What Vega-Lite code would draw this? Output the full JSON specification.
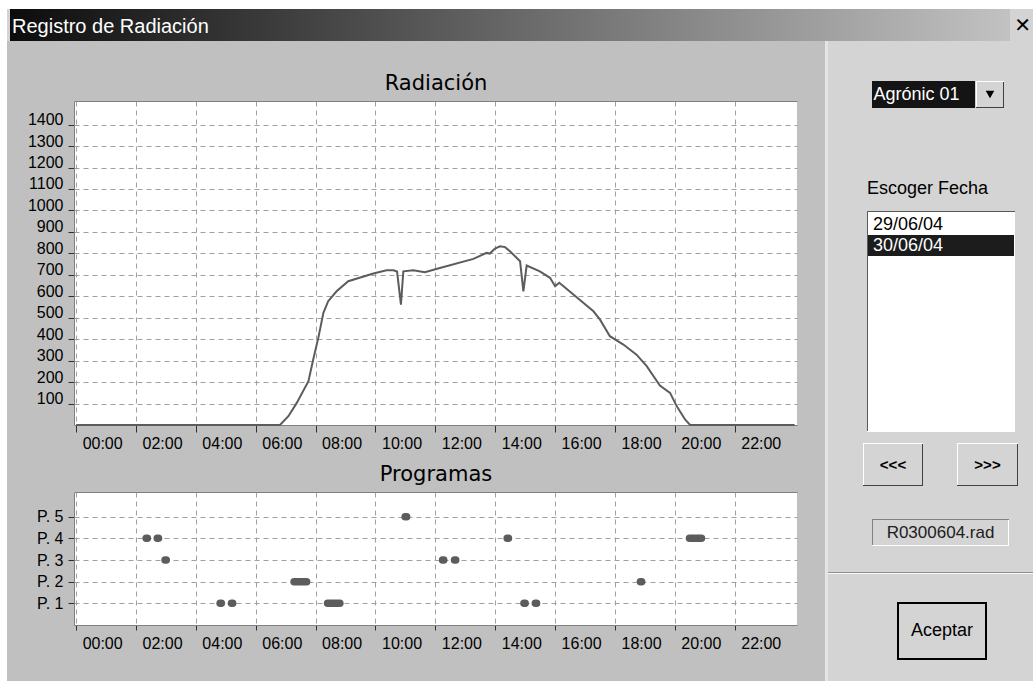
{
  "$schema": "https://vega.github.io/schema/vega-lite/v6.json",
  "background": "#c0c0c0",
  "padding": 0,
  "autosize": {"type": "pad"},
  "spacing": 0,
  "bounds": "full",
  "config": {
    "view": {"stroke": null},
    "font": "Liberation Sans",
    "concat": {"spacing": 0},
    "text": {"font": "Liberation Sans", "fontSize": 18, "color": "#000000"},
    "axis": {"labelFont": "Liberation Sans", "titleFont": "DejaVu Sans"}
  },
  "datasets": {
    "radiacion": [
      {"hora": 0, "valor": 0}, {"hora": 6.81, "valor": 0}, {"hora": 7.09, "valor": 41}, {"hora": 7.37, "valor": 103},
      {"hora": 7.76, "valor": 204}, {"hora": 7.92, "valor": 305}, {"hora": 8.09, "valor": 406}, {"hora": 8.26, "valor": 523},
      {"hora": 8.42, "valor": 577}, {"hora": 8.7, "valor": 623}, {"hora": 9.09, "valor": 670}, {"hora": 9.93, "valor": 706},
      {"hora": 10.37, "valor": 721}, {"hora": 10.6, "valor": 721}, {"hora": 10.72, "valor": 715}, {"hora": 10.85, "valor": 561},
      {"hora": 10.93, "valor": 716}, {"hora": 11.26, "valor": 721}, {"hora": 11.65, "valor": 712}, {"hora": 12.15, "valor": 732},
      {"hora": 13.27, "valor": 774}, {"hora": 13.71, "valor": 802}, {"hora": 13.82, "valor": 799}, {"hora": 13.99, "valor": 822},
      {"hora": 14.16, "valor": 833}, {"hora": 14.33, "valor": 829}, {"hora": 14.49, "valor": 810}, {"hora": 14.83, "valor": 763},
      {"hora": 14.94, "valor": 623}, {"hora": 15.05, "valor": 743}, {"hora": 15.49, "valor": 716}, {"hora": 15.83, "valor": 686},
      {"hora": 16.0, "valor": 647}, {"hora": 16.14, "valor": 663}, {"hora": 16.61, "valor": 608}, {"hora": 17.28, "valor": 530},
      {"hora": 17.5, "valor": 491}, {"hora": 17.83, "valor": 414}, {"hora": 18.28, "valor": 375}, {"hora": 18.72, "valor": 328},
      {"hora": 19.06, "valor": 274}, {"hora": 19.5, "valor": 184}, {"hora": 19.84, "valor": 150}, {"hora": 20.06, "valor": 88},
      {"hora": 20.34, "valor": 26}, {"hora": 20.51, "valor": 0}, {"hora": 24, "valor": 0}
    ],
    "programas": [
      {"programa": 5, "inicio": 10.99, "fin": 11.04},
      {"programa": 4, "inicio": 2.34, "fin": 2.38},
      {"programa": 4, "inicio": 2.71, "fin": 2.75},
      {"programa": 4, "inicio": 14.4, "fin": 14.44},
      {"programa": 4, "inicio": 20.49, "fin": 20.89},
      {"programa": 3, "inicio": 2.97, "fin": 3.01},
      {"programa": 3, "inicio": 12.24, "fin": 12.28},
      {"programa": 3, "inicio": 12.64, "fin": 12.68},
      {"programa": 2, "inicio": 7.28, "fin": 7.7},
      {"programa": 2, "inicio": 18.85, "fin": 18.89},
      {"programa": 1, "inicio": 4.81, "fin": 4.85},
      {"programa": 1, "inicio": 5.19, "fin": 5.23},
      {"programa": 1, "inicio": 8.4, "fin": 8.81},
      {"programa": 1, "inicio": 14.96, "fin": 15.0},
      {"programa": 1, "inicio": 15.34, "fin": 15.38}
    ]
  },
  "vconcat": [
    {"width": 1033, "height": 9, "view": {"fill": "#ffffff"}, "data": {"values": []}, "mark": "point", "encoding": {}},
    {
      "hconcat": [
        {"width": 7, "height": 672, "view": {"fill": "#ffffff"}, "data": {"values": []}, "mark": "point", "encoding": {}},
        {
          "vconcat": [
            {
              "hconcat": [
                {"width": 3, "height": 32, "view": {"fill": "#d4d4d4"}, "data": {"values": []}, "mark": "point", "encoding": {}},
                {
                  "width": 1000, "height": 32,
                  "data": {"values": [{"texto": "Registro de Radiación"}]},
                  "layer": [
                    {
                      "mark": {"type": "rect", "color": {"gradient": "linear", "x1": 0, "x2": 1, "y1": 0, "y2": 0, "stops": [{"offset": 0, "color": "#0c0c0c"}, {"offset": 1, "color": "#c2c2c2"}]}},
                      "encoding": {
                        "x": {"datum": 0, "type": "quantitative", "scale": {"domain": [0, 1], "nice": false}, "axis": null},
                        "x2": {"datum": 1},
                        "y": {"datum": 0, "type": "quantitative", "scale": {"domain": [0, 1], "nice": false}, "axis": null},
                        "y2": {"datum": 1}
                      }
                    },
                    {
                      "mark": {"type": "text", "align": "left", "baseline": "alphabetic", "dx": 2, "dy": 8, "fontSize": 20, "color": "#ffffff", "font": "Liberation Sans"},
                      "encoding": {"x": {"datum": 0, "type": "quantitative"}, "text": {"field": "texto"}}
                    }
                  ]
                },
                {"width": 23, "height": 32, "view": {"fill": "#d4d4d4"}, "data": {"values": [{"texto": "✕"}]}, "mark": {"type": "text", "font": "DejaVu Sans", "fontWeight": "bold", "fontSize": 20, "baseline": "middle", "dx": 1, "dy": 1, "color": "#000000"}, "encoding": {"text": {"field": "texto"}}}
              ],
              "spacing": 0, "bounds": "flush"
            },
            {
              "hconcat": [
                {"width": 1, "height": 1, "data": {"values": []}, "mark": "point", "encoding": {}},
                {
                  "vconcat": [
                    {"width": 1, "height": 31, "data": {"values": []}, "mark": "point", "encoding": {}},
                    {
                      "width": 723, "height": 324,
                      "view": {"fill": "#ffffff"},
                      "data": {"name": "radiacion"},
                      "resolve": {"axis": {"x": "independent"}},
                      "layer": [
                        {
                          "mark": {"type": "line", "color": "#5c5c5c", "strokeWidth": 2},
                          "encoding": {
                            "x": {"field": "hora", "type": "quantitative", "scale": {"domain": [-0.071, 24.08], "nice": false, "zero": false},
                              "axis": {"orient": "bottom", "values": [0, 2, 4, 6, 8, 10, 12, 14, 16, 18, 20, 22],
                                "labelExpr": "(datum.value < 10 ? '0' : '') + datum.value + ':00'",
                                "labelAlign": "left", "labelOffset": 6, "labelBaseline": "top", "labelFontSize": 16, "labelColor": "#000000", "labelPadding": 3,
                                "labelFlush": false, "labelBound": false, "labelOverlap": false,
                                "tickSize": 7, "tickColor": "#303030", "tickWidth": 1, "domain": true, "domainColor": "#808080",
                                "grid": true, "gridColor": "#a0a0a0", "gridDash": [5, 4], "gridWidth": 1,
                                "minExtent": 38, "maxExtent": 38, "title": null}},
                            "y": {"field": "valor", "type": "quantitative", "scale": {"domain": [0, 1510], "nice": false},
                              "axis": {"values": [100, 200, 300, 400, 500, 600, 700, 800, 900, 1000, 1100, 1200, 1300, 1400], "format": "d",
                                "labelFontSize": 16, "labelColor": "#000000", "labelBaseline": "alphabetic", "labelPadding": 5,
                                "labelFlush": false, "labelBound": false, "labelOverlap": false,
                                "tickSize": 6, "tickColor": "#303030", "domain": true, "domainColor": "#808080",
                                "grid": true, "gridColor": "#a0a0a0", "gridDash": [5, 4], "gridWidth": 1,
                                "minExtent": 66, "maxExtent": 66,
                                "title": "Radiación", "titleX": 361.5, "titleY": -12, "titleAlign": "center", "titleBaseline": "alphabetic", "titleAngle": 0,
                                "titleFont": "DejaVu Sans", "titleFontSize": 21, "titleFontWeight": "normal", "titleColor": "#000000"}}
                          }
                        },
                        {
                          "mark": {"type": "rule", "opacity": 0},
                          "encoding": {
                            "x": {"field": "hora", "type": "quantitative",
                              "axis": {"orient": "top", "labels": false, "ticks": false, "grid": false, "domain": true, "domainColor": "#808080", "title": null}}
                          }
                        }
                      ]
                    },
                    {
                      "width": 723, "height": 133,
                      "view": {"fill": "#ffffff"},
                      "data": {"name": "programas"},
                      "resolve": {"axis": {"x": "independent"}},
                      "layer": [
                        {
                          "mark": {"type": "rule", "color": "#5c5c5c", "strokeWidth": 7.5, "strokeCap": "round"},
                          "encoding": {
                            "x": {"field": "inicio", "type": "quantitative", "scale": {"domain": [-0.071, 24.08], "nice": false, "zero": false},
                              "axis": {"orient": "bottom", "values": [0, 2, 4, 6, 8, 10, 12, 14, 16, 18, 20, 22],
                                "labelExpr": "(datum.value < 10 ? '0' : '') + datum.value + ':00'",
                                "labelAlign": "left", "labelOffset": 6, "labelBaseline": "top", "labelFontSize": 16, "labelColor": "#000000", "labelPadding": 5,
                                "labelFlush": false, "labelBound": false, "labelOverlap": false,
                                "tickSize": 5, "tickColor": "#303030", "tickWidth": 1, "domain": true, "domainColor": "#808080",
                                "grid": true, "gridColor": "#a0a0a0", "gridDash": [5, 4], "gridWidth": 1, "title": null}},
                            "x2": {"field": "fin"},
                            "y": {"field": "programa", "type": "quantitative", "scale": {"domain": [0, 6.14], "nice": false},
                              "axis": {"values": [1, 2, 3, 4, 5], "labelExpr": "'P. ' + datum.value",
                                "labelFontSize": 16, "labelColor": "#000000", "labelBaseline": "middle", "labelPadding": 5,
                                "labelFlush": false, "labelBound": false, "labelOverlap": false,
                                "tickSize": 6, "tickColor": "#303030", "domain": true, "domainColor": "#808080",
                                "grid": true, "gridColor": "#a0a0a0", "gridDash": [5, 4], "gridWidth": 1,
                                "minExtent": 66, "maxExtent": 66,
                                "title": "Programas", "titleX": 361.5, "titleY": -12, "titleAlign": "center", "titleBaseline": "alphabetic", "titleAngle": 0,
                                "titleFont": "DejaVu Sans", "titleFontSize": 21, "titleFontWeight": "normal", "titleColor": "#000000"}}
                          }
                        },
                        {
                          "mark": {"type": "rule", "opacity": 0},
                          "encoding": {
                            "x": {"field": "inicio", "type": "quantitative",
                              "axis": {"orient": "top", "labels": false, "ticks": false, "grid": false, "domain": true, "domainColor": "#808080", "title": null}}
                          }
                        }
                      ]
                    }
                  ],
                  "spacing": 0, "bounds": "full"
                },
                {"width": 25.5, "height": 1, "data": {"values": []}, "mark": "point", "encoding": {}},
                {"width": 3, "height": 640, "view": {"fill": "#e4e4e4"}, "data": {"values": []}, "mark": "point", "encoding": {}},
                {
                  "vconcat": [
                    {"width": 205, "height": 40, "view": {"fill": "#d4d4d4"}, "data": {"values": []}, "mark": "point", "encoding": {}},
                    {
                      "hconcat": [
                        {"width": 44, "height": 27, "view": {"fill": "#d4d4d4"}, "data": {"values": []}, "mark": "point", "encoding": {}},
                        {"width": 103, "height": 27, "view": {"fill": "#141414"}, "data": {"values": [{"texto": "Agrónic 01"}]},
                          "mark": {"type": "text", "align": "left", "baseline": "middle", "dx": 1.5, "fontSize": 18, "color": "#ffffff"},
                          "encoding": {"x": {"datum": 0, "type": "quantitative", "scale": {"domain": [0, 1]}, "axis": null}, "text": {"field": "texto"}}},
                        {"width": 1, "height": 27, "view": {"fill": "#d4d4d4"}, "data": {"values": []}, "mark": "point", "encoding": {}},
                        {
                          "vconcat": [
                            {"width": 28, "height": 1, "view": {"fill": "#ffffff"}, "data": {"values": []}, "mark": "point", "encoding": {}},
                            {"hconcat": [
                              {"width": 1, "height": 25, "view": {"fill": "#ffffff"}, "data": {"values": []}, "mark": "point", "encoding": {}},
                              {"width": 26, "height": 25, "view": {"fill": "#d4d4d4"}, "data": {"values": [{"simbolo": "desplegar"}]},
                                "mark": {"type": "point", "shape": "triangle-down", "filled": true, "size": 75, "color": "#000000", "opacity": 1}, "encoding": {}},
                              {"width": 1, "height": 25, "view": {"fill": "#404040"}, "data": {"values": []}, "mark": "point", "encoding": {}}
                            ], "spacing": 0, "bounds": "flush"},
                            {"width": 28, "height": 1, "view": {"fill": "#404040"}, "data": {"values": []}, "mark": "point", "encoding": {}}
                          ],
                          "spacing": 0, "bounds": "full"
                        },
                        {"width": 29, "height": 27, "view": {"fill": "#d4d4d4"}, "data": {"values": []}, "mark": "point", "encoding": {}}
                      ],
                      "spacing": 0, "bounds": "full"
                    },
                    {"width": 205, "height": 68, "view": {"fill": "#d4d4d4"}, "data": {"values": []}, "mark": "point", "encoding": {}},
                    {
                      "hconcat": [
                        {"width": 39, "height": 25, "view": {"fill": "#d4d4d4"}, "data": {"values": []}, "mark": "point", "encoding": {}},
                        {"width": 166, "height": 25, "view": {"fill": "#d4d4d4"}, "data": {"values": [{"texto": "Escoger Fecha"}]},
                          "mark": {"type": "text", "align": "left", "baseline": "middle", "fontSize": 18, "color": "#000000"},
                          "encoding": {"x": {"datum": 0, "type": "quantitative", "scale": {"domain": [0, 1]}, "axis": null}, "text": {"field": "texto"}}}
                      ],
                      "spacing": 0, "bounds": "flush"
                    },
                    {"width": 205, "height": 10, "view": {"fill": "#d4d4d4"}, "data": {"values": []}, "mark": "point", "encoding": {}},
                    {
                      "hconcat": [
                        {"width": 39, "height": 221, "view": {"fill": "#d4d4d4"}, "data": {"values": []}, "mark": "point", "encoding": {}},
                        {
                          "vconcat": [
                            {"width": 148, "height": 1, "view": {"fill": "#5a5a5a"}, "data": {"values": []}, "mark": "point", "encoding": {}},
                            {"hconcat": [
                              {"width": 1, "height": 219, "view": {"fill": "#5a5a5a"}, "data": {"values": []}, "mark": "point", "encoding": {}},
                              {
                                "width": 146, "height": 219,
                                "view": {"fill": "#ffffff"},
                                "data": {"values": [{"fecha": "29/06/04", "seleccionada": false}, {"fecha": "30/06/04", "seleccionada": true}]},
                                "layer": [
                                  {
                                    "transform": [{"filter": "datum.seleccionada"}],
                                    "mark": {"type": "rect", "color": "#1c1c1c"},
                                    "encoding": {
                                      "y": {"field": "fecha", "type": "ordinal", "scale": {"type": "band", "range": [2, 44], "paddingInner": 0, "paddingOuter": 0}, "axis": null},
                                      "x": {"datum": 0, "type": "quantitative", "scale": {"domain": [0, 1], "nice": false}, "axis": null},
                                      "x2": {"datum": 1}
                                    }
                                  },
                                  {
                                    "mark": {"type": "text", "align": "left", "baseline": "middle", "dx": 5, "fontSize": 18},
                                    "encoding": {
                                      "y": {"field": "fecha", "type": "ordinal"},
                                      "x": {"datum": 0, "type": "quantitative"},
                                      "text": {"field": "fecha"},
                                      "color": {"condition": {"test": "datum.seleccionada", "value": "#ffffff"}, "value": "#000000"}
                                    }
                                  }
                                ]
                              },
                              {"width": 1, "height": 219, "view": {"fill": "#ffffff"}, "data": {"values": []}, "mark": "point", "encoding": {}}
                            ], "spacing": 0, "bounds": "flush"},
                            {"width": 148, "height": 1, "view": {"fill": "#ffffff"}, "data": {"values": []}, "mark": "point", "encoding": {}}
                          ],
                          "spacing": 0, "bounds": "full"
                        },
                        {"width": 18, "height": 221, "view": {"fill": "#d4d4d4"}, "data": {"values": []}, "mark": "point", "encoding": {}}
                      ],
                      "spacing": 0, "bounds": "full"
                    },
                    {"width": 205, "height": 11, "view": {"fill": "#d4d4d4"}, "data": {"values": []}, "mark": "point", "encoding": {}},
                    {
                      "hconcat": [
                        {"width": 35, "height": 43, "view": {"fill": "#d4d4d4"}, "data": {"values": []}, "mark": "point", "encoding": {}},
                        {
                          "vconcat": [
                            {"width": 60, "height": 1, "view": {"fill": "#ffffff"}, "data": {"values": []}, "mark": "point", "encoding": {}},
                            {"hconcat": [
                              {"width": 1, "height": 41, "view": {"fill": "#ffffff"}, "data": {"values": []}, "mark": "point", "encoding": {}},
                              {"width": 58, "height": 41, "view": {"fill": "#d4d4d4"}, "data": {"values": [{"etiqueta": "<<<"}]},
                                "mark": {"type": "text", "fontSize": 15, "fontWeight": "bold", "baseline": "middle"}, "encoding": {"text": {"field": "etiqueta"}}},
                              {"width": 1, "height": 41, "view": {"fill": "#404040"}, "data": {"values": []}, "mark": "point", "encoding": {}}
                            ], "spacing": 0, "bounds": "flush"},
                            {"width": 60, "height": 1, "view": {"fill": "#404040"}, "data": {"values": []}, "mark": "point", "encoding": {}}
                          ],
                          "spacing": 0, "bounds": "full"
                        },
                        {"width": 34, "height": 43, "view": {"fill": "#d4d4d4"}, "data": {"values": []}, "mark": "point", "encoding": {}},
                        {
                          "vconcat": [
                            {"width": 61, "height": 1, "view": {"fill": "#ffffff"}, "data": {"values": []}, "mark": "point", "encoding": {}},
                            {"hconcat": [
                              {"width": 1, "height": 41, "view": {"fill": "#ffffff"}, "data": {"values": []}, "mark": "point", "encoding": {}},
                              {"width": 59, "height": 41, "view": {"fill": "#d4d4d4"}, "data": {"values": [{"etiqueta": ">>>"}]},
                                "mark": {"type": "text", "fontSize": 15, "fontWeight": "bold", "baseline": "middle"}, "encoding": {"text": {"field": "etiqueta"}}},
                              {"width": 1, "height": 41, "view": {"fill": "#404040"}, "data": {"values": []}, "mark": "point", "encoding": {}}
                            ], "spacing": 0, "bounds": "flush"},
                            {"width": 61, "height": 1, "view": {"fill": "#404040"}, "data": {"values": []}, "mark": "point", "encoding": {}}
                          ],
                          "spacing": 0, "bounds": "full"
                        },
                        {"width": 15, "height": 43, "view": {"fill": "#d4d4d4"}, "data": {"values": []}, "mark": "point", "encoding": {}}
                      ],
                      "spacing": 0, "bounds": "full"
                    },
                    {"width": 205, "height": 33, "view": {"fill": "#d4d4d4"}, "data": {"values": []}, "mark": "point", "encoding": {}},
                    {
                      "hconcat": [
                        {"width": 44, "height": 27, "view": {"fill": "#d4d4d4"}, "data": {"values": []}, "mark": "point", "encoding": {}},
                        {
                          "vconcat": [
                            {"width": 137, "height": 1, "view": {"fill": "#808080"}, "data": {"values": []}, "mark": "point", "encoding": {}},
                            {"hconcat": [
                              {"width": 1, "height": 25, "view": {"fill": "#808080"}, "data": {"values": []}, "mark": "point", "encoding": {}},
                              {"width": 135, "height": 25, "view": {"fill": "#d4d4d4"}, "data": {"values": [{"archivo": "R0300604.rad"}]},
                                "mark": {"type": "text", "fontSize": 17, "baseline": "middle", "color": "#202020"}, "encoding": {"text": {"field": "archivo"}}},
                              {"width": 1, "height": 25, "view": {"fill": "#ffffff"}, "data": {"values": []}, "mark": "point", "encoding": {}}
                            ], "spacing": 0, "bounds": "flush"},
                            {"width": 137, "height": 1, "view": {"fill": "#ffffff"}, "data": {"values": []}, "mark": "point", "encoding": {}}
                          ],
                          "spacing": 0, "bounds": "full"
                        },
                        {"width": 24, "height": 27, "view": {"fill": "#d4d4d4"}, "data": {"values": []}, "mark": "point", "encoding": {}}
                      ],
                      "spacing": 0, "bounds": "full"
                    },
                    {"width": 205, "height": 26, "view": {"fill": "#d4d4d4"}, "data": {"values": []}, "mark": "point", "encoding": {}},
                    {"width": 205, "height": 1, "view": {"fill": "#909090"}, "data": {"values": []}, "mark": "point", "encoding": {}},
                    {"width": 205, "height": 1, "view": {"fill": "#f8f8f8"}, "data": {"values": []}, "mark": "point", "encoding": {}},
                    {"width": 205, "height": 28, "view": {"fill": "#d4d4d4"}, "data": {"values": []}, "mark": "point", "encoding": {}},
                    {
                      "hconcat": [
                        {"width": 69, "height": 58, "view": {"fill": "#d4d4d4"}, "data": {"values": []}, "mark": "point", "encoding": {}},
                        {
                          "vconcat": [
                            {"width": 90, "height": 2, "view": {"fill": "#000000"}, "data": {"values": []}, "mark": "point", "encoding": {}},
                            {"hconcat": [
                              {"width": 2, "height": 54, "view": {"fill": "#000000"}, "data": {"values": []}, "mark": "point", "encoding": {}},
                              {"width": 86, "height": 54, "view": {"fill": "#d4d4d4"}, "data": {"values": [{"etiqueta": "Aceptar"}]},
                                "mark": {"type": "text", "fontSize": 18, "baseline": "middle", "color": "#000000"}, "encoding": {"text": {"field": "etiqueta"}}},
                              {"width": 2, "height": 54, "view": {"fill": "#000000"}, "data": {"values": []}, "mark": "point", "encoding": {}}
                            ], "spacing": 0, "bounds": "flush"},
                            {"width": 90, "height": 2, "view": {"fill": "#000000"}, "data": {"values": []}, "mark": "point", "encoding": {}}
                          ],
                          "spacing": 0, "bounds": "full"
                        },
                        {"width": 46, "height": 58, "view": {"fill": "#d4d4d4"}, "data": {"values": []}, "mark": "point", "encoding": {}}
                      ],
                      "spacing": 0, "bounds": "full"
                    },
                    {"width": 205, "height": 21, "view": {"fill": "#d4d4d4"}, "data": {"values": []}, "mark": "point", "encoding": {}}
                  ],
                  "spacing": 0, "bounds": "full"
                }
              ],
              "spacing": 0, "bounds": "full"
            }
          ],
          "spacing": 0, "bounds": "full"
        }
      ],
      "spacing": 0, "bounds": "full"
    }
  ]
}
